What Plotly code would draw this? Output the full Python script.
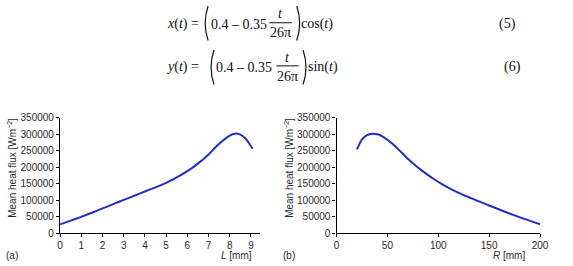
import plotly.graph_objects as go
from plotly.subplots import make_subplots

# ---- data ----
L_mm = [0, 0.5, 1, 1.5, 2, 2.5, 3, 3.5, 4, 4.5, 5, 5.5, 6, 6.5, 7, 7.5, 8, 8.25, 8.5, 8.75, 9.08]
flux_L = [26500, 38000, 49500, 62000, 75000, 88000, 101000, 113500, 126500, 139000,
          152500, 169000, 188000, 211000, 239000, 271000, 296000, 302000, 299000, 287000, 256000]

R_mm = [20, 25, 30, 35, 40, 45, 50, 55, 60, 65, 70, 77, 83, 90, 96, 104, 111, 125, 150, 175, 200]
flux_R = [254000, 285000, 297500, 302000, 300000, 294000, 283500, 271000, 256500, 241500,
          226000, 207000, 192000, 176000, 163500, 148000, 136000, 115500, 84000, 54000, 27000]

y_ticks = [0, 50000, 100000, 150000, 200000, 250000, 300000, 350000]
L_ticks = [0, 1, 2, 3, 4, 5, 6, 7, 8, 9]
R_ticks = [0, 50, 100, 150, 200]

W, H = 573, 266


def px(x):
    return x / W


def py(y):
    return 1 - y / H


LINE = "rgb(30,45,210)"
SANS = "Liberation Sans, Arial, sans-serif"
TICKFONT = dict(family=SANS, size=10, color="#2a2a2a")
SERIF = "Liberation Serif, Times New Roman, serif"

fig = make_subplots(rows=1, cols=2)
fig.add_trace(go.Scatter(x=L_mm, y=flux_L, mode="lines",
                         line=dict(color=LINE, width=2, shape="spline", smoothing=0.6),
                         showlegend=False), row=1, col=1)
fig.add_trace(go.Scatter(x=R_mm, y=flux_R, mode="lines",
                         line=dict(color=LINE, width=2, shape="spline", smoothing=0.6),
                         showlegend=False), row=1, col=2)

axis_common = dict(showline=True, linecolor="black", linewidth=1.3, ticks="outside", ticklen=3,
                   tickcolor="black", tickwidth=1, showgrid=False, zeroline=False, tickfont=TICKFONT)

fig.update_layout(
    width=W, height=H, autosize=False,
    margin=dict(l=0, r=0, t=0, b=0),
    paper_bgcolor="white", plot_bgcolor="white",
    xaxis=dict(domain=[px(58.3), px(263)], range=[0, 9.45], tickvals=L_ticks, **axis_common),
    xaxis2=dict(domain=[px(340.7), px(548.5)], range=[0, 200], tickvals=R_ticks, **axis_common),
    yaxis=dict(domain=[py(238), py(117.7)], range=[0, 350000], tickvals=y_ticks,
               tickformat="d", **axis_common),
    yaxis2=dict(domain=[py(238), py(117.7)], range=[0, 350000], tickvals=y_ticks,
                tickformat="d", **axis_common),
)

ann = []
shapes = []


def text(x, y, s, xanchor="left", size=14, font=SERIF, color="#111", angle=0, yanchor="middle"):
    ann.append(dict(x=px(x), y=py(y), xref="paper", yref="paper", text=s, showarrow=False,
                    xanchor=xanchor, yanchor=yanchor, textangle=angle, borderpad=0,
                    font=dict(family=font, size=size, color=color)))


def paren(x, y0, y1, left=True):
    d = -4 if left else 4
    ym = (y0 + y1) / 2
    path = "M {},{} Q {},{} {},{}".format(px(x - d / 2), py(y0), px(x + d), py(ym), px(x - d / 2), py(y1))
    shapes.append(dict(type="path", xref="paper", yref="paper", path=path,
                       line=dict(color="#111", width=1.2)))


def bar(x0, x1, y):
    shapes.append(dict(type="line", xref="paper", yref="paper", x0=px(x0), x1=px(x1), y0=py(y), y1=py(y),
                       line=dict(color="#111", width=1)))


# Equation (5)
text(201, 20, "<i>x</i>(<i>t</i>) =", xanchor="right")
paren(207.5, 1, 37, left=True)
text(211, 20, "0.4 – 0.35")
text(283.5, 9, "<i>t</i>", xanchor="center")
bar(272, 295, 18.5)
text(283.5, 29, "26π", xanchor="center")
paren(302, 1, 37, left=False)
text(303.5, 20, "cos(<i>t</i>)")
text(506, 20, "(5)")

# Equation (6)
text(201, 65, "<i>y</i>(<i>t</i>) =", xanchor="right")
paren(213.5, 47, 83, left=True)
text(216.5, 65, "0.4 – 0.35")
text(290.5, 55, "<i>t</i>", xanchor="center")
bar(279, 302, 63.5)
text(290.5, 75, "26π", xanchor="center")
paren(308.5, 47, 83, left=False)
text(310.5, 65, "sin(<i>t</i>)")
text(511, 65, "(6)")

# axis titles and panel labels
ytitle = "Mean heat flux [Wm<sup>−2</sup>]"
text(9, 170, ytitle, xanchor="center", size=10, font=SANS, color="#2a2a2a", angle=-90)
text(292, 170, ytitle, xanchor="center", size=10, font=SANS, color="#2a2a2a", angle=-90)
text(255, 255, "<i>L</i> [mm]", xanchor="right", size=10, font=SANS, color="#2a2a2a", yanchor="top")
text(534, 255, "<i>R</i> [mm]", xanchor="right", size=10, font=SANS, color="#2a2a2a", yanchor="top")
text(2, 255, "(a)", size=10, font=SANS, color="#2a2a2a", yanchor="top")
text(285, 255, "(b)", size=10, font=SANS, color="#2a2a2a", yanchor="top")

fig.update_layout(annotations=ann, shapes=shapes)

fig.write_html("out.html")
